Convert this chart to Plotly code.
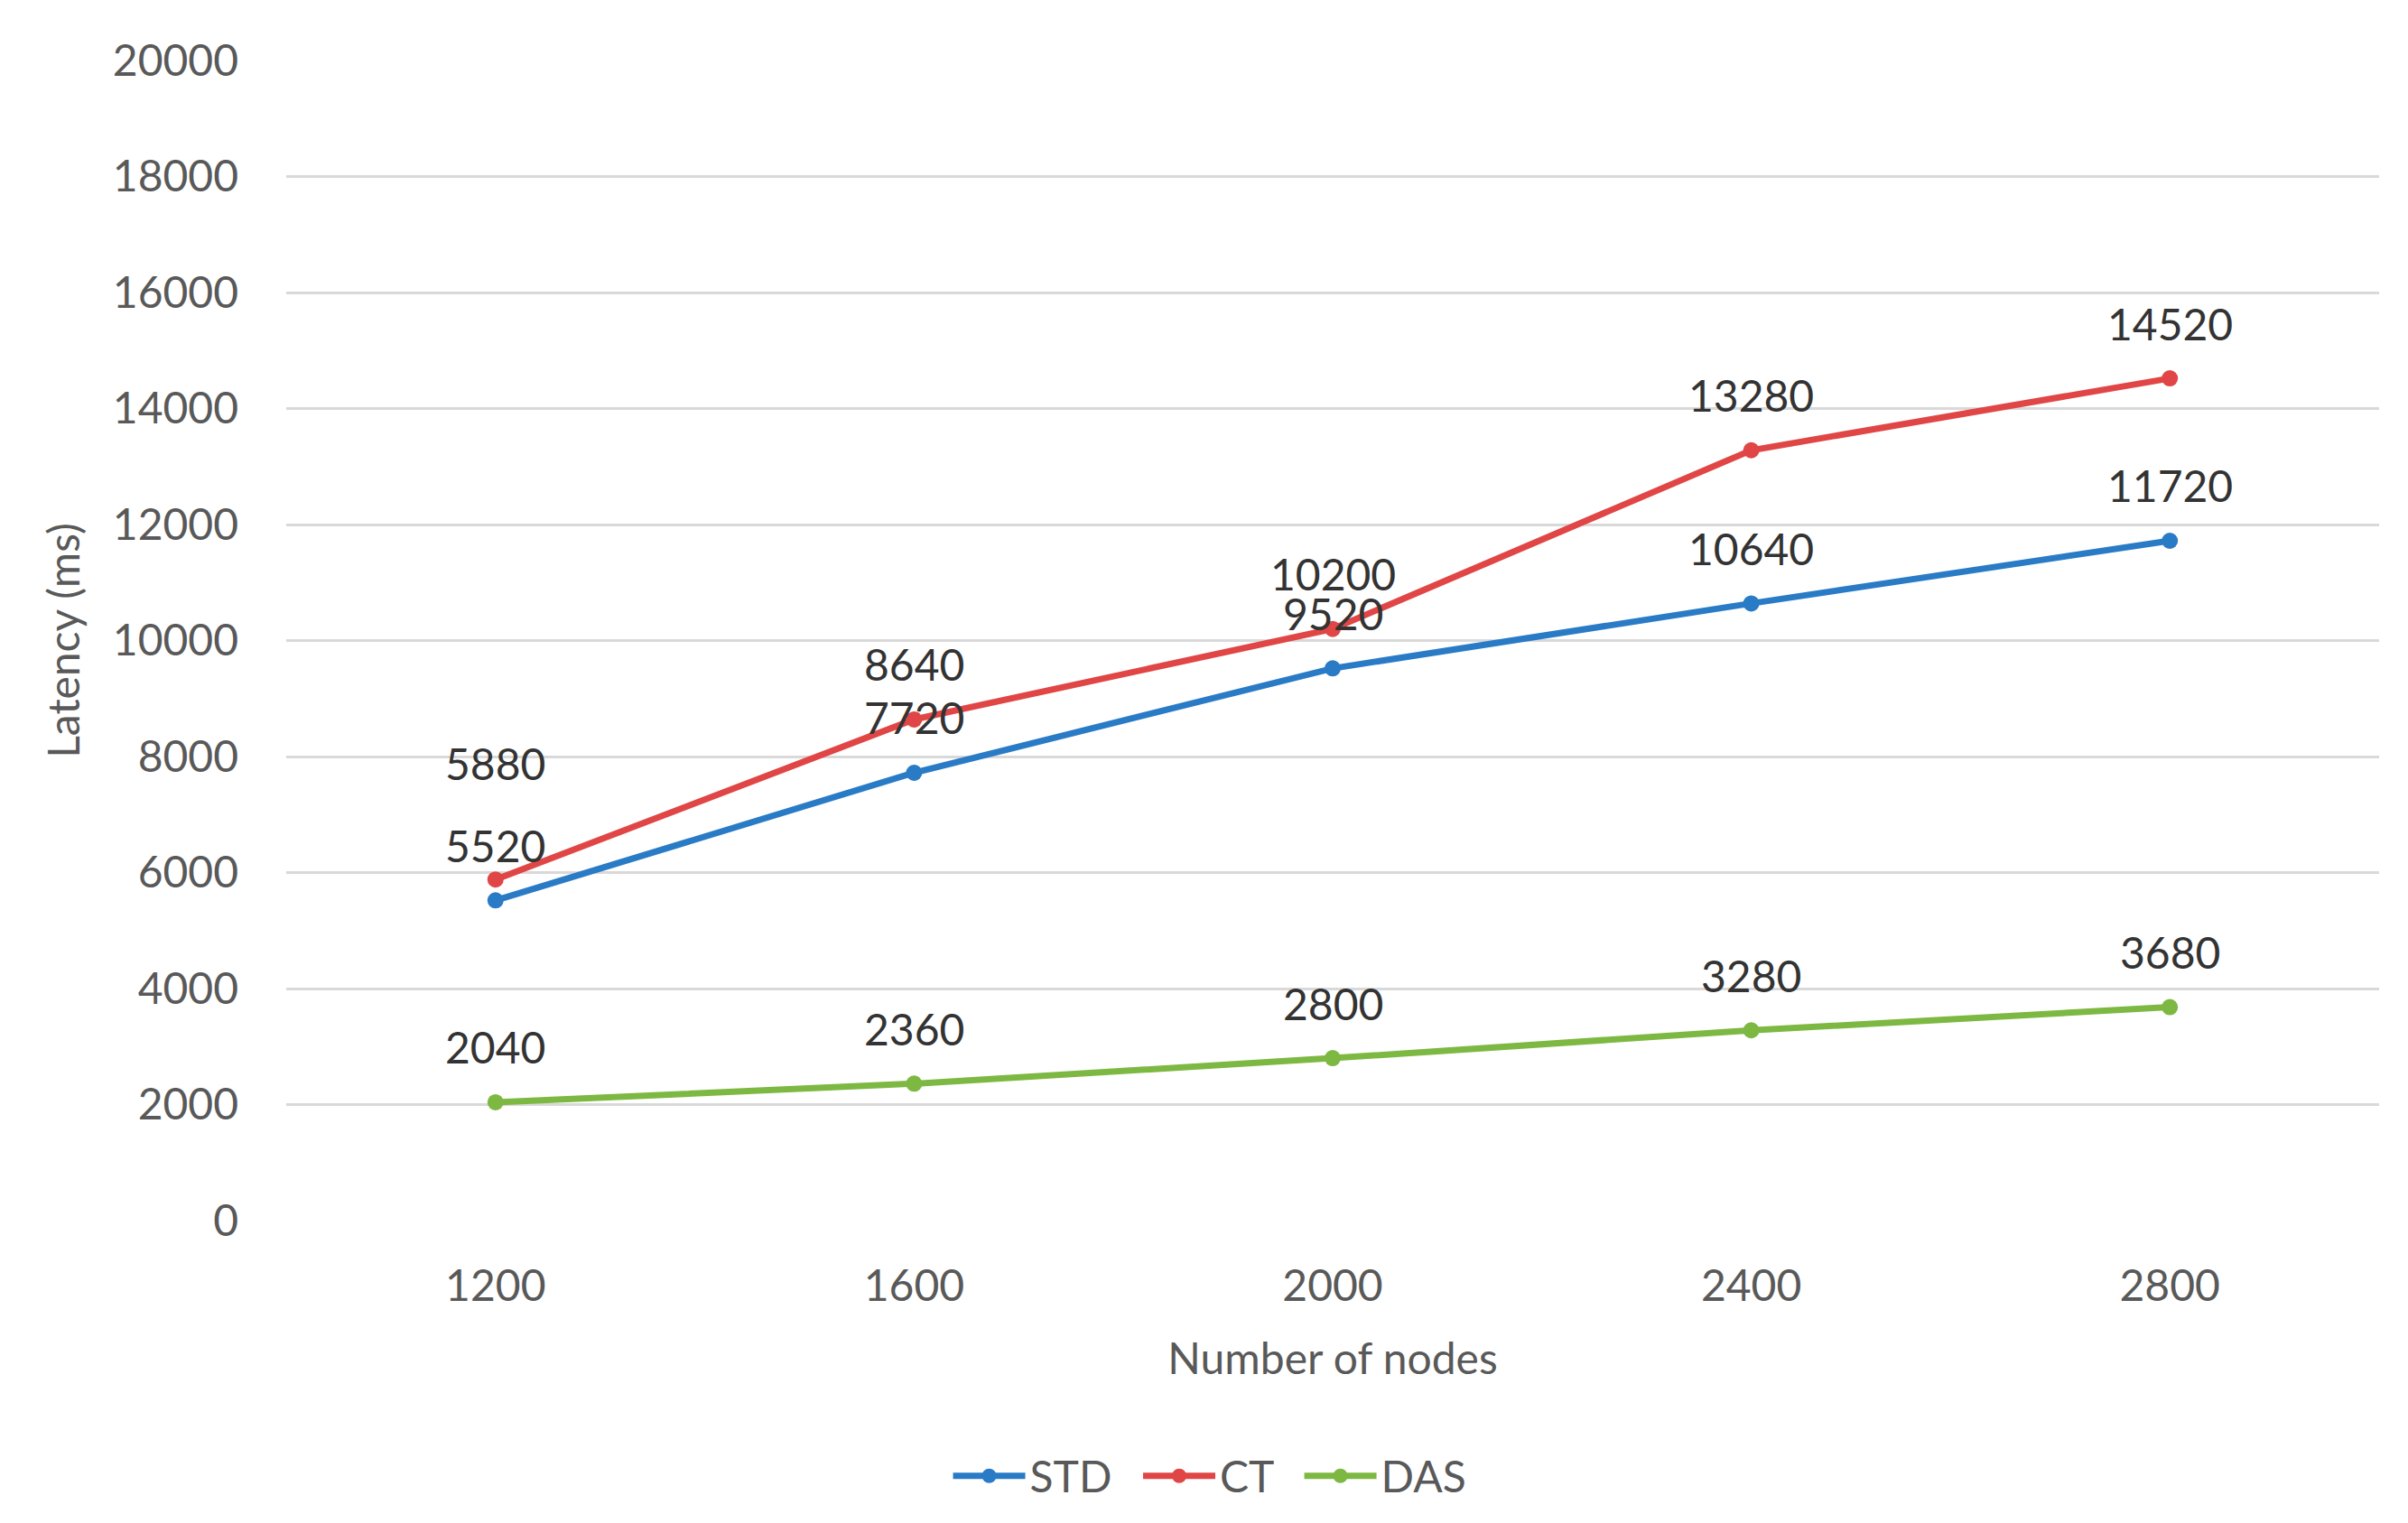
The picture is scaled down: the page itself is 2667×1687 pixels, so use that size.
import plotly.graph_objects as go

nodes = ["1200", "1600", "2000", "2400", "2800"]
std = [5520, 7720, 9520, 10640, 11720]
ct = [5880, 8640, 10200, 13280, 14520]
das = [2040, 2360, 2800, 3280, 3680]
y_ticks = [0, 2000, 4000, 6000, 8000, 10000, 12000, 14000, 16000, 18000, 20000]

series = [
    ("STD", std, "#2A7BC6"),
    ("CT", ct, "#E04645"),
    ("DAS", das, "#7DB842"),
]

FONT = "Lato"
fig = go.Figure()
for name, vals, col in series:
    fig.add_trace(go.Scatter(
        x=nodes, y=vals, name=name + "\u00a0\u00a0", mode="lines+markers",
        line=dict(color=col, width=7),
        marker=dict(color=col, size=18),
    ))

annotations = []
for name, vals, col in series:
    for i, yv in enumerate(vals):
        shift = 61
        if name == "CT" and i == 0:
            shift = 129
        annotations.append(dict(
            x=i, y=yv, xref="x", yref="y", text=str(yv), showarrow=False,
            yshift=shift, font=dict(family=FONT, size=48, color="#333333"),
        ))

fig.update_layout(
    width=2651, height=1671,
    margin=dict(l=309, r=24, t=59, b=327, autoexpand=False),
    paper_bgcolor="white", plot_bgcolor="white",
    font=dict(family=FONT, size=48, color="#595959"),
    annotations=annotations,
    showlegend=True,
    legend=dict(orientation="h", x=0.507, xref="container", xanchor="center",
                y=0.0263, yref="container", yanchor="middle",
                font=dict(family=FONT, size=48, color="#595959"),
                itemwidth=80, tracegroupgap=0),
    xaxis=dict(
        type="category", range=[-0.5, 4.5], showgrid=False, showline=False,
        zeroline=False, ticks="", ticklabelstandoff=40, automargin=False,
        title=dict(text="Number of nodes", standoff=38,
                   font=dict(family=FONT, size=48, color="#595959")),
    ),
    yaxis=dict(
        range=[0, 20000], tickvals=y_ticks, tickformat="d", showgrid=True,
        gridcolor="#D9D9D9", gridwidth=3, zeroline=False, showline=False,
        ticks="", ticklabelstandoff=52, automargin=False,
        title=dict(text="Latency (ms)", standoff=20,
                   font=dict(family=FONT, size=48, color="#595959")),
    ),
)

fig.write_html("out.html")
